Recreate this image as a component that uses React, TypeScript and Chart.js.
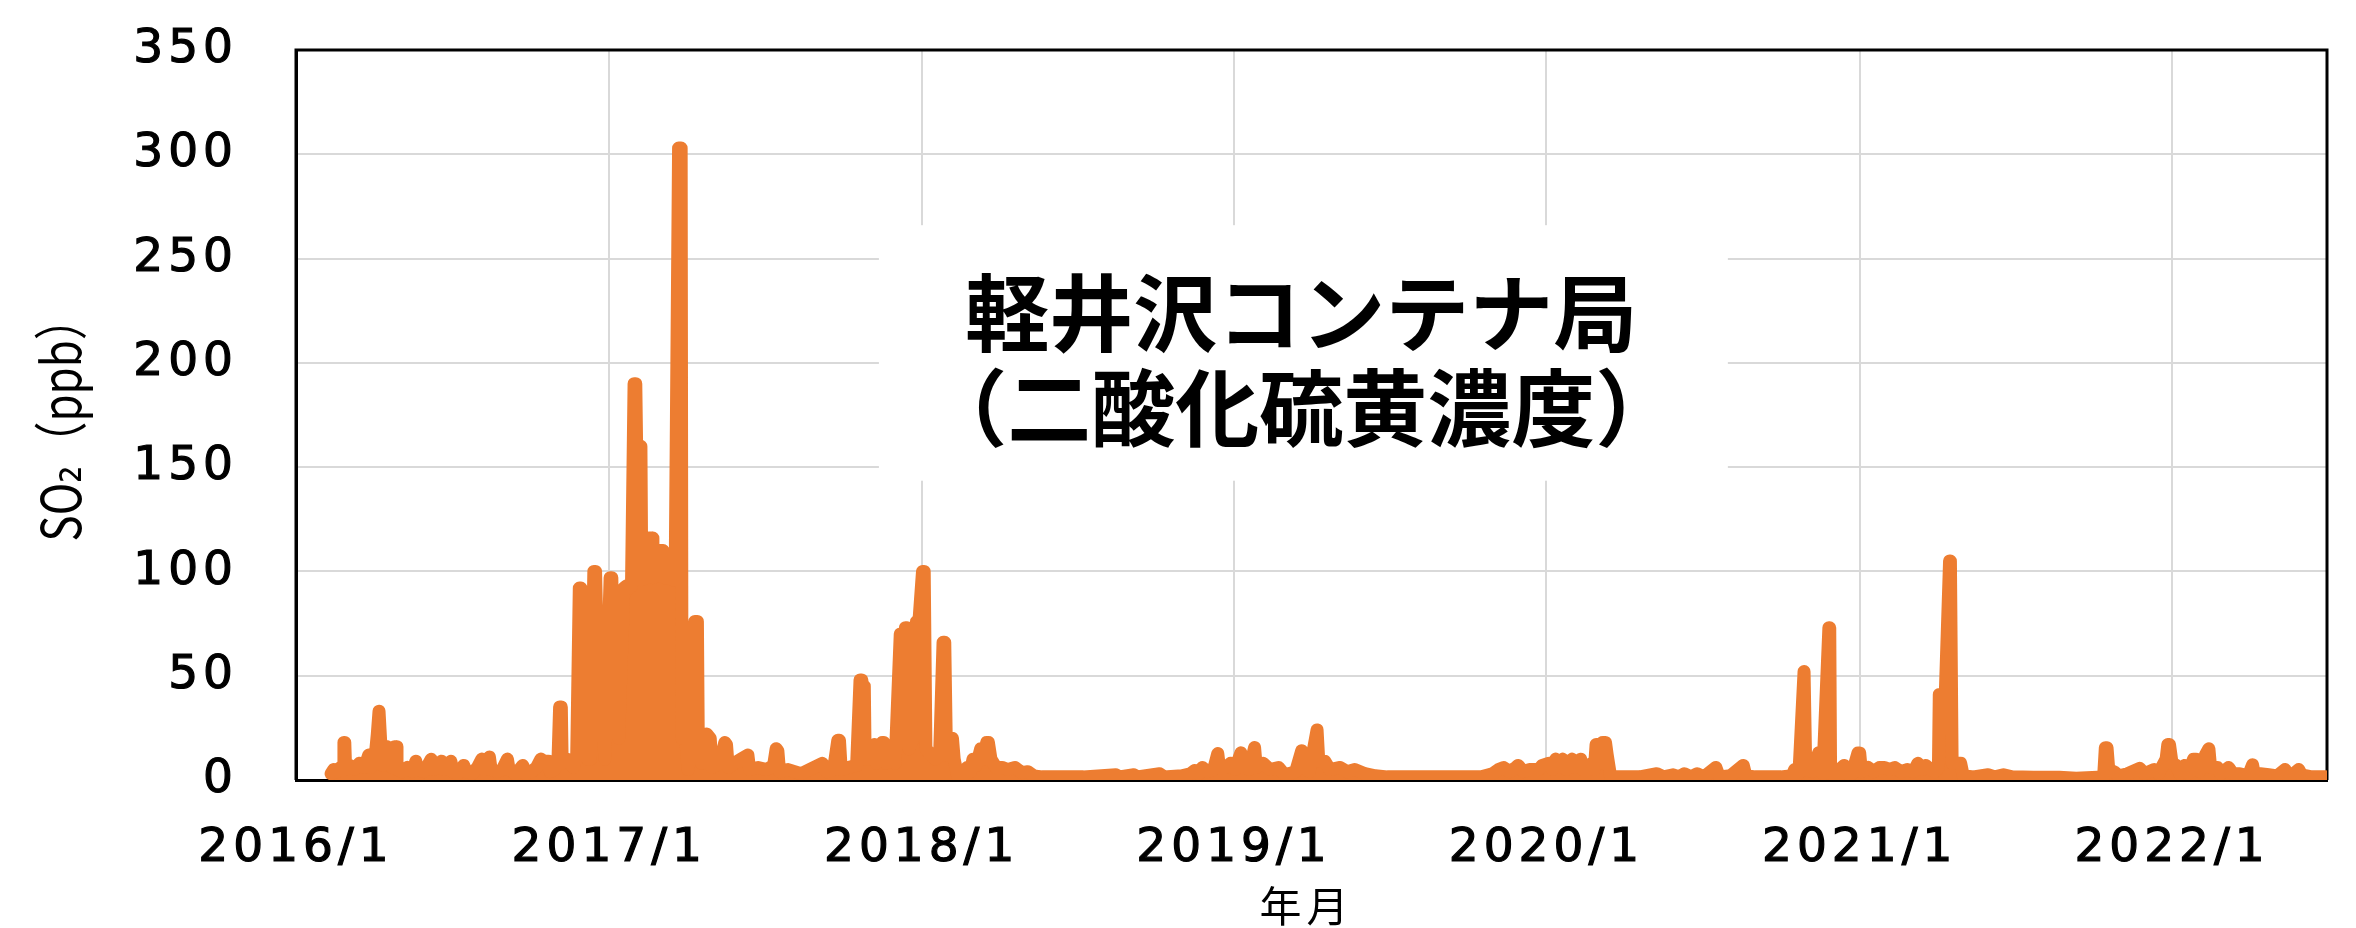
import React, { useEffect, useRef } from 'react';
import { Chart, registerables } from 'chart.js';

Chart.register(...registerables);

// ---------------- data (daily SO2, ppb) ----------------
const dates2016 = [
  '2016-02-11','2016-02-14','2016-02-18','2016-02-22','2016-02-25','2016-02-26','2016-02-27','2016-02-28',
  '2016-03-04','2016-03-09','2016-03-15','2016-03-21','2016-03-26','2016-03-28','2016-04-02','2016-04-05',
  '2016-04-07','2016-04-08','2016-04-09','2016-04-11','2016-04-16','2016-04-18','2016-04-22','2016-04-25',
  '2016-04-27','2016-04-28','2016-05-04','2016-05-10','2016-05-16','2016-05-20','2016-05-22','2016-05-29',
  '2016-06-03','2016-06-07','2016-06-09','2016-06-14','2016-06-19','2016-06-21','2016-06-26','2016-06-30',
  '2016-07-02','2016-07-08','2016-07-15','2016-07-18','2016-07-25','2016-07-31','2016-08-05','2016-08-08',
  '2016-08-14','2016-08-16','2016-08-23','2016-08-29','2016-09-04','2016-09-06','2016-09-13','2016-09-18',
  '2016-09-22','2016-09-25','2016-10-02','2016-10-08','2016-10-13','2016-10-17','2016-10-22','2016-10-24',
  '2016-10-29','2016-11-02','2016-11-04','2016-11-06','2016-11-07','2016-11-13','2016-11-20','2016-11-24',
  '2016-11-27','2016-11-29','2016-12-03','2016-12-05','2016-12-07','2016-12-10','2016-12-14','2016-12-16',
  '2016-12-20','2016-12-24','2016-12-27',
];
const so2_2016 = [
  3, 5, 4, 6, 5, 18, 18, 5,
  7, 5, 8, 6, 12, 6, 9, 22,
  33, 33, 18, 7, 16, 8, 6, 16,
  16, 5, 4, 6, 4, 9, 5, 4,
  7, 10, 5, 6, 9, 5, 6, 9,
  4, 3, 7, 4, 3, 6, 10, 5,
  11, 5, 4, 5, 10, 5, 3, 5,
  7, 3, 4, 6, 10, 9, 9, 4,
  5, 8, 35, 35, 8, 10, 6, 12,
  92, 92, 60, 60, 10, 10, 100, 100,
  28, 28, 10,
];

const dates2017 = [
  '2017-01-02','2017-01-04','2017-01-07','2017-01-12','2017-01-18','2017-01-21','2017-01-24','2017-01-27',
  '2017-01-30','2017-02-01','2017-02-02','2017-02-07','2017-02-08','2017-02-13','2017-02-16','2017-02-20',
  '2017-02-21','2017-02-25','2017-03-01','2017-03-05','2017-03-06','2017-03-12','2017-03-16','2017-03-19',
  '2017-03-23','2017-03-26','2017-03-27','2017-03-31','2017-04-03','2017-04-07','2017-04-11','2017-04-14',
  '2017-04-15','2017-04-19','2017-04-25','2017-04-29','2017-05-01','2017-05-10','2017-05-16','2017-05-18',
  '2017-05-20','2017-05-27','2017-06-04','2017-06-12','2017-06-14','2017-06-24','2017-07-04','2017-07-12',
  '2017-07-15','2017-07-17','2017-07-19','2017-07-29','2017-08-13','2017-08-23','2017-09-07','2017-09-12',
  '2017-09-20','2017-09-25','2017-09-27','2017-09-29','2017-10-07','2017-10-17','2017-10-21','2017-10-23',
  '2017-10-24','2017-10-26','2017-10-27','2017-11-03','2017-11-07','2017-11-09','2017-11-16','2017-11-18',
  '2017-11-20','2017-11-26','2017-12-01','2017-12-07','2017-12-09','2017-12-11','2017-12-13','2017-12-15',
  '2017-12-17','2017-12-22','2017-12-26','2017-12-29',
];
const so2_2017 = [
  97, 97, 25, 20, 92, 93, 92, 93,
  190, 190, 160, 160, 96, 97, 116, 116,
  97, 98, 110, 110, 97, 97, 96, 97,
  303, 303, 20, 22, 5, 20, 76, 76,
  20, 8, 22, 20, 6, 8, 18, 17,
  6, 8, 10, 12, 5, 6, 5, 7,
  15, 14, 4, 5, 3, 5, 8, 4,
  5, 19, 19, 5, 6, 7, 48, 48,
  45, 45, 10, 10, 17, 8, 18, 18,
  8, 10, 8, 70, 70, 40, 73, 73,
  15, 20, 76, 77,
];

const dates2018 = [
  '2018-01-02','2018-01-04','2018-01-06','2018-01-12','2018-01-17','2018-01-22','2018-01-26','2018-01-28',
  '2018-01-30','2018-02-04','2018-02-06','2018-02-08','2018-02-12','2018-02-16','2018-02-20','2018-02-23',
  '2018-02-27','2018-03-02','2018-03-06','2018-03-11','2018-03-14','2018-03-18','2018-03-20','2018-03-23',
  '2018-03-29','2018-04-05','2018-04-12','2018-04-20','2018-04-28','2018-05-05','2018-05-12','2018-05-22',
  '2018-06-09','2018-07-09','2018-08-16','2018-08-20','2018-09-06','2018-09-10','2018-10-06','2018-10-11',
  '2018-11-01','2018-11-11','2018-11-16','2018-11-21','2018-11-25','2018-12-01','2018-12-08','2018-12-13',
  '2018-12-15','2018-12-22','2018-12-28',
];
const so2_2018 = [
  100, 100, 15, 12, 10, 12, 66, 66,
  12, 20, 20, 10, 2, 0, 3, 6,
  4, 10, 7, 15, 10, 18, 18, 10,
  6, 6, 5, 6, 3.5, 4, 2, 1.5,
  1.5, 1.5, 2.5, 1.5, 2.5, 1.5, 3, 1.5,
  2, 3, 4.5, 3, 6, 4, 5, 12.7,
  6, 6, 8,
];

const dates2019 = [
  '2019-01-02','2019-01-09','2019-01-11','2019-01-15','2019-01-19','2019-01-25','2019-01-27','2019-02-04',
  '2019-02-12','2019-02-22','2019-02-28','2019-03-06','2019-03-14','2019-03-21','2019-03-23','2019-03-30',
  '2019-04-08','2019-04-10','2019-04-17','2019-04-23','2019-05-05','2019-05-13','2019-05-22','2019-06-03',
  '2019-06-15','2019-06-29','2019-07-24','2019-08-23','2019-09-22','2019-10-17','2019-10-30','2019-11-06',
  '2019-11-12','2019-11-19','2019-11-26','2019-11-29','2019-12-05','2019-12-12','2019-12-23','2019-12-27',
];
const so2_2019 = [
  5, 13, 7, 8, 5, 15.6, 6, 8,
  5, 6, 3, 3, 4, 14, 6, 4,
  24, 9, 9, 5, 6, 4, 5, 3,
  2, 1.5, 1.5, 1.5, 1.5, 1.5, 3, 5,
  6, 4, 6, 7, 4, 5, 5, 7,
];

const dates2020 = [
  '2020-01-04','2020-01-08','2020-01-12','2020-01-16','2020-01-20','2020-01-24','2020-01-28','2020-01-31',
  '2020-02-03','2020-02-06','2020-02-10','2020-02-13','2020-02-19','2020-02-23','2020-02-26','2020-02-28',
  '2020-03-01','2020-03-03','2020-03-07','2020-03-10','2020-03-12','2020-03-16','2020-03-30','2020-04-19',
  '2020-05-09','2020-05-17','2020-05-28','2020-06-04','2020-06-10','2020-06-18','2020-06-25','2020-07-03',
  '2020-07-17','2020-07-21','2020-08-03','2020-08-18','2020-08-21','2020-09-01','2020-09-21','2020-10-01',
  '2020-10-14','2020-10-17','2020-10-22','2020-10-28','2020-10-29','2020-10-30','2020-11-07','2020-11-14',
  '2020-11-16','2020-11-19','2020-11-26','2020-11-27','2020-11-28','2020-12-05','2020-12-11','2020-12-14',
  '2020-12-17','2020-12-23','2020-12-30',
];
const so2_2020 = [
  8, 5, 10, 6, 10, 5, 6, 10,
  6, 8, 10, 5, 5, 8, 5, 17,
  17, 8, 18, 18, 12, 1.5, 1.5, 1.5,
  3, 1.5, 2.5, 1.5, 3, 1.5, 3, 1.5,
  6, 1.5, 2, 7, 2, 1.5, 1.5, 1.5,
  2, 5, 3, 52, 52, 5, 4, 13,
  12, 3, 73, 73, 3, 2, 6, 7,
  3, 3, 13,
];

const dates2021 = [
  '2021-01-01','2021-01-03','2021-01-11','2021-01-17','2021-01-24','2021-01-30','2021-02-05','2021-02-11',
  '2021-02-18','2021-02-26','2021-03-05','2021-03-10','2021-03-15','2021-03-19','2021-03-25','2021-03-30',
  '2021-04-03','2021-04-04','2021-04-11','2021-04-16','2021-04-17','2021-04-19','2021-04-24','2021-04-29',
  '2021-05-02','2021-05-14','2021-05-31','2021-06-08','2021-06-18','2021-06-28','2021-07-23','2021-08-22',
  '2021-09-11','2021-10-06','2021-10-13','2021-10-15','2021-10-17','2021-10-19','2021-10-25','2021-10-31',
  '2021-11-10','2021-11-24','2021-11-30','2021-12-05','2021-12-11','2021-12-16','2021-12-25','2021-12-27',
  '2021-12-29',
];
const so2_2021 = [
  13, 4, 6, 4, 6, 6, 5, 6,
  4, 5, 4, 8, 5, 7, 5, 4,
  6, 41, 41, 105, 105, 8, 8, 8,
  2, 1.5, 2.5, 1.5, 2.5, 1.5, 1.3, 1.3,
  0.8, 1.3, 1.5, 15.5, 15.5, 5, 4, 2,
  3, 5.6, 3, 4, 5, 3, 10, 17,
  17,
];

const dates2022 = [
  '2022-01-01','2022-01-06','2022-01-10','2022-01-16','2022-01-20','2022-01-26','2022-01-29','2022-02-02',
  '2022-02-09','2022-02-13','2022-02-15','2022-02-23','2022-02-27','2022-03-08','2022-03-13','2022-03-21',
  '2022-03-31','2022-04-05','2022-04-07','2022-04-14','2022-04-24','2022-05-04','2022-05-13','2022-05-17',
  '2022-05-23','2022-05-29','2022-06-02','2022-06-07','2022-06-13','2022-06-25','2022-06-30',
];
const so2_2022 = [
  8, 7, 3, 7, 3, 10, 10, 4,
  12, 15, 6, 6, 3, 6, 3, 3,
  2, 7.3, 3, 3, 2.5, 2, 5, 2,
  3, 5, 2, 2, 1.5, 1.5, 1.5,
];

// axis
const xStart = '2016-01-01';
const xEnd = '2022-07-01';
const tickDates = ['2016-01-01', '2017-01-01', '2018-01-01', '2019-01-01', '2020-01-01', '2021-01-01', '2022-01-01'];
const tickLabels = ['2016/1', '2017/1', '2018/1', '2019/1', '2020/1', '2021/1', '2022/1'];
const yMin = 0;
const yMax = 350;
const yStep = 50;

const titleLines = ['軽井沢コンテナ局', '（二酸化硫黄濃度）'];
const yTitle = 'SO₂（ppb）';
const xTitle = '年月';

// ---------------- helpers ----------------
const ORIGIN = Date.UTC(2016, 0, 1);
const dayIndex = (s: string) => {
  const [y, m, d] = s.split('-').map(Number);
  return (Date.UTC(y, m - 1, d) - ORIGIN) / 86400000;
};

const allDates = [...dates2016, ...dates2017, ...dates2018, ...dates2019, ...dates2020, ...dates2021, ...dates2022];
const allValues = [...so2_2016, ...so2_2017, ...so2_2018, ...so2_2019, ...so2_2020, ...so2_2021, ...so2_2022];
const tickDays = tickDates.map(dayIndex);

const ORANGE = '#ED7D31';
const GRID = '#d9d9d9';
const TICK_FONT = "'DejaVu Sans', Verdana, sans-serif";
const JP_FONT = "'Noto Sans CJK JP', 'DejaVu Sans', sans-serif";

const decorPlugin = {
  id: 'decor',
  beforeDraw(chart: any) {
    chart.ctx.letterSpacing = '5px';
  },
  beforeDatasetsDraw(chart: any) {
    const { ctx, chartArea: a } = chart;
    const w = a.right - a.left;
    const h = a.bottom - a.top;
    ctx.save();
    ctx.letterSpacing = '0px';
    // frame (top / right / left)
    ctx.strokeStyle = '#000';
    ctx.lineWidth = 3;
    ctx.beginPath();
    ctx.moveTo(a.left, a.bottom);
    ctx.lineTo(a.left, a.top);
    ctx.lineTo(a.right, a.top);
    ctx.lineTo(a.right, a.bottom);
    ctx.stroke();
    // white title box
    const bx0 = a.left + w * 0.287;
    const bx1 = a.left + w * 0.705;
    const by0 = a.top + h * 0.24;
    const by1 = a.top + h * 0.59;
    ctx.fillStyle = '#fff';
    ctx.fillRect(bx0, by0, bx1 - bx0, by1 - by0);
    ctx.fillStyle = '#000';
    ctx.font = `bold 84px ${JP_FONT}`;
    ctx.textAlign = 'center';
    ctx.textBaseline = 'middle';
    const cx = a.left + w * 0.495;
    ctx.fillText(titleLines[0], cx, a.top + h * 0.36);
    ctx.fillText(titleLines[1], cx, a.top + h * 0.49);
    ctx.restore();
  },
  afterDraw(chart: any) {
    const { ctx, chartArea: a } = chart;
    ctx.save();
    ctx.letterSpacing = '0px';
    ctx.fillStyle = '#000';
    ctx.textAlign = 'center';
    ctx.textBaseline = 'middle';
    // y title (tall, condensed lettering as in the original)
    ctx.save();
    ctx.translate(60, (a.top + a.bottom) / 2 + 4);
    ctx.rotate(-Math.PI / 2);
    ctx.scale(0.81, 1);
    ctx.font = `54px ${JP_FONT}`;
    ctx.fillText(yTitle, 0, 0);
    ctx.restore();
    // x title
    ctx.font = `42px ${JP_FONT}`;
    ctx.letterSpacing = '5px';
    ctx.fillText(xTitle, (a.left + a.right) / 2 - 5, 906);
    ctx.restore();
    chart.ctx.letterSpacing = '0px';
  },
};

export default function App() {
  const ref = useRef<HTMLCanvasElement | null>(null);

  useEffect(() => {
    if (!ref.current) return;
    const points = allDates.map((d, i) => ({ x: dayIndex(d), y: allValues[i] }));
    const chart = new Chart(ref.current, {
      type: 'line',
      data: {
        datasets: [
          {
            label: 'SO2',
            data: points,
            borderColor: ORANGE,
            backgroundColor: ORANGE,
            borderWidth: 13,
            pointRadius: 0,
            pointHoverRadius: 0,
            borderJoinStyle: 'round',
            borderCapStyle: 'round',
            tension: 0,
            fill: 'origin',
          },
        ],
      },
      options: {
        animation: false,
        responsive: true,
        maintainAspectRatio: false,
        layout: { padding: { top: 50, right: 29, left: 0, bottom: 0 } },
        plugins: { legend: { display: false }, tooltip: { enabled: false } },
        scales: {
          x: {
            type: 'linear',
            min: dayIndex(xStart),
            max: dayIndex(xEnd),
            afterBuildTicks: (s: any) => {
              s.ticks = tickDays.map((v) => ({ value: v }));
            },
            afterFit: (s: any) => {
              s.height = 148;
              s.paddingLeft = 0;
              s.paddingRight = 0;
            },
            grid: { color: GRID, lineWidth: 2, drawTicks: false },
            border: { color: '#000', width: 3 },
            ticks: {
              autoSkip: false,
              maxRotation: 0,
              padding: 41,
              color: '#000',
              textStrokeColor: '#000',
              textStrokeWidth: 1.2,
              font: { family: TICK_FONT, size: 47 },
              callback: (v: any) => {
                const i = tickDays.indexOf(Number(v));
                return i >= 0 ? tickLabels[i] : '';
              },
            },
          },
          y: {
            min: yMin,
            max: yMax,
            afterFit: (s: any) => {
              s.width = 296;
              s.paddingTop = 0;
              s.paddingBottom = 0;
            },
            grid: { color: GRID, lineWidth: 2, drawTicks: false },
            border: { color: '#000', width: 3 },
            ticks: {
              stepSize: yStep,
              padding: 58,
              color: '#000',
              textStrokeColor: '#000',
              textStrokeWidth: 1.2,
              font: { family: TICK_FONT, size: 47 },
            },
          },
        },
      },
      plugins: [decorPlugin],
    } as any);
    return () => chart.destroy();
  }, []);

  return (
    <div style={{ position: 'fixed', left: 0, top: 0, width: 2356, height: 928, background: '#fff' }}>
      <canvas ref={ref} />
    </div>
  );
}
